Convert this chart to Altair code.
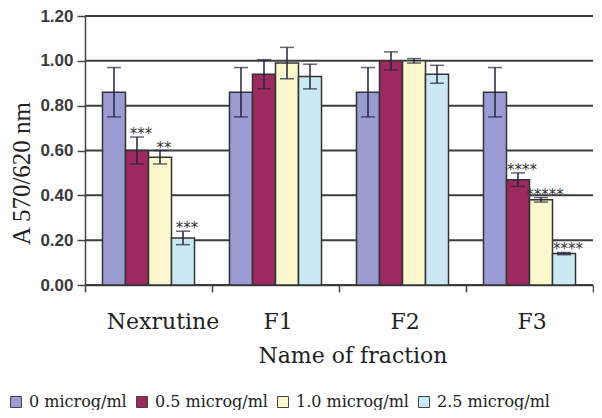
import altair as alt
import pandas as pd

categories = ["Nexrutine", "F1", "F2", "F3"]
series = ["0 microg/ml", "0.5 microg/ml", "1.0 microg/ml", "2.5 microg/ml"]

mean_0 = [0.86, 0.86, 0.86, 0.86]
mean_05 = [0.60, 0.94, 1.00, 0.47]
mean_10 = [0.57, 0.99, 1.00, 0.38]
mean_25 = [0.21, 0.93, 0.94, 0.14]

err_0 = [0.11, 0.11, 0.11, 0.11]
err_05 = [0.06, 0.065, 0.04, 0.03]
err_10 = [0.03, 0.07, 0.01, 0.01]
err_25 = [0.03, 0.055, 0.04, 0.005]

stars_0 = ["", "", "", ""]
stars_05 = ["***", "", "", "****"]
stars_10 = ["**", "", "", "*****"]
stars_25 = ["***", "", "", "****"]

colors = ["#9b9bd3", "#9c2a5e", "#fcf8cd", "#cbe9f3"]
y_ticks = [0.0, 0.2, 0.4, 0.6, 0.8, 1.0, 1.2]

rows = []
for s, means, errs, stars in zip(
    series,
    [mean_0, mean_05, mean_10, mean_25],
    [err_0, err_05, err_10, err_25],
    [stars_0, stars_05, stars_10, stars_25],
):
    for c, m, e, st in zip(categories, means, errs, stars):
        rows.append(dict(fraction=c, dose=s, value=m, lo=m - e, hi=m + e, stars=st))
df = pd.DataFrame(rows)
grid_df = pd.DataFrame({"tick": y_ticks})

YTITLE = "A 570/620 nm"
yscale = alt.Scale(domain=[0, 1.2], nice=False)

grid = alt.Chart(grid_df).mark_rule(stroke="#3c3c3c", strokeWidth=2, opacity=1).encode(
    y=alt.Y("tick:Q", scale=yscale, title=YTITLE),
)

base = alt.Chart(df).encode(
    x=alt.X(
        "fraction:N",
        sort=categories,
        scale=alt.Scale(paddingInner=0, paddingOuter=0),
        axis=alt.Axis(
            title="Name of fraction",
            labelAngle=0,
            tickBand="extent",
            tickSize=7,
            tickWidth=1.5,
            tickColor="#444444",
            domainColor="#444444",
            domainWidth=1.5,
            grid=False,
            labelPadding=19,
            labelFont="DejaVu Serif",
            labelFontSize=22,
            labelColor="#222222",
            labelOffset={"condition": {"test": "datum.value === 'Nexrutine'", "value": 14}, "value": 2},
            titleFont="DejaVu Serif",
            titleFontSize=22,
            titleFontWeight="normal",
            titleColor="#222222",
            titleX=267.5,
            titleY=77,
            titleBaseline="alphabetic",
        ),
    ),
    xOffset=alt.XOffset(
        "dose:N", sort=series, scale=alt.Scale(paddingInner=0, paddingOuter=0.76)
    ),
)

bars = base.mark_bar(stroke="#333333", strokeWidth=1.5).encode(
    y=alt.Y(
        "value:Q",
        scale=yscale,
        axis=alt.Axis(
            title=YTITLE,
            values=y_ticks,
            format=".2f",
            grid=False,
            tickSize=8,
            tickWidth=1.5,
            tickColor="#444444",
            domainColor="#444444",
            domainWidth=1.5,
            labelPadding=4,
            labelFont="Liberation Sans",
            labelFontSize=17,
            labelFontWeight="bold",
            labelColor="#3a3a3a",
            titleFont="Liberation Serif",
            titleFontSize=25,
            titleFontWeight="normal",
            titleColor="#222222",
            titleX=-64,
            titleY=157,
            titleBaseline="middle",
        ),
    ),
    color=alt.Color(
        "dose:N",
        sort=series,
        scale=alt.Scale(domain=series, range=colors),
        legend=alt.Legend(
            title=None,
            orient="none",
            legendX=-77,
            legendY=378,
            direction="horizontal",
            symbolType="square",
            symbolSize=121,
            symbolStrokeColor="#444444",
            symbolStrokeWidth=1,
            labelFont="DejaVu Serif",
            labelFontSize=16,
            labelColor="#222222",
            columnPadding=7,
            labelOffset=5,
            padding=0,
        ),
    ),
)

err_color = "#23233f"
rules = base.mark_rule(stroke=err_color, strokeWidth=1.5).encode(
    y=alt.Y("lo:Q", scale=yscale, title=YTITLE), y2="hi:Q"
)
cap_lo = base.mark_tick(color=err_color, size=14, thickness=1.5).encode(
    y=alt.Y("lo:Q", scale=yscale, title=YTITLE)
)
cap_hi = base.mark_tick(color=err_color, size=14, thickness=1.5).encode(
    y=alt.Y("hi:Q", scale=yscale, title=YTITLE)
)
labels = (
    base.transform_filter("datum.stars != ''")
    .mark_text(
        baseline="alphabetic",
        align="center",
        dx=4,
        dy=2,
        font="DejaVu Sans",
        fontSize=15,
        color="#333333",
    )
    .encode(y=alt.Y("hi:Q", scale=yscale, title=YTITLE), text="stars:N")
)

chart = (
    alt.layer(grid, bars, rules, cap_lo, cap_hi, labels)
    .properties(
        width=508,
        height=269,
        autosize=alt.AutoSizeParams(type="none"),
        padding={"left": 77, "top": 8, "right": 1, "bottom": 125},
        background="white",
    )
    .configure_view(stroke=None)
)

chart.save("out.html", embed_options={"renderer": "svg", "actions": False})
